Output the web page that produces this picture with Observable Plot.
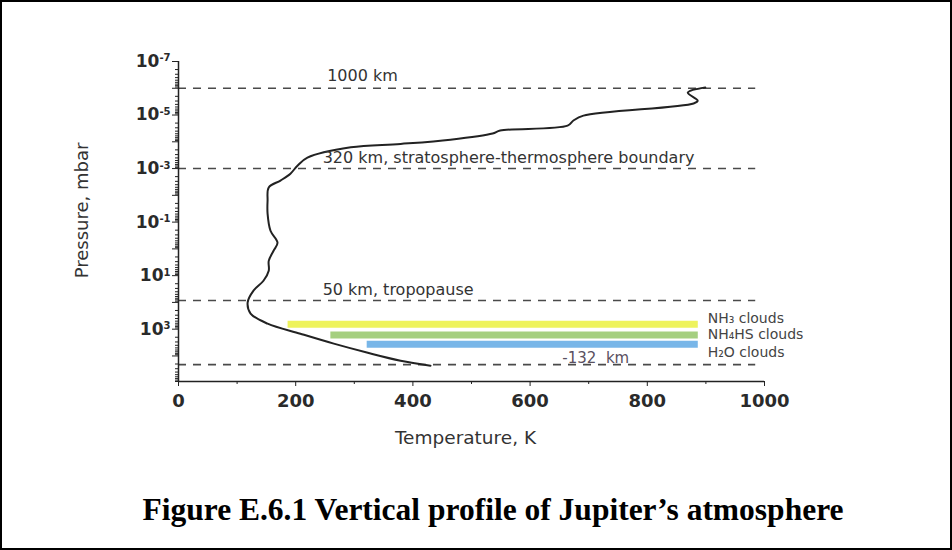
<!DOCTYPE html>
<html><head><meta charset="utf-8">
<script src="https://cdn.jsdelivr.net/npm/d3@7"></script>
<script src="https://cdn.jsdelivr.net/npm/@observablehq/plot@0.6"></script>
<style>
html,body{margin:0;padding:0;background:#fff;}
#frame{width:952px;height:550px;box-sizing:border-box;border:2px solid #000;position:relative;overflow:hidden;background:#fff;}
#chart svg{display:block;}
#caption{font-family:"Liberation Serif","Times New Roman",serif;font-weight:bold;font-size:31.5px;color:#000;text-align:center;padding-left:34px;padding-top:18px;line-height:40px;white-space:nowrap;}
</style></head><body>
<div id="frame"><div id="chart"></div><div id="caption">Figure E.6.1 Vertical profile of Jupiter’s atmosphere</div></div>
<script>
// Temperature profile (K) vs pressure (mbar), top to bottom
const profileT = [899, 869, 886, 879, 691, 674, 664, 549, 536, 464, 379, 294, 220, 203, 191, 174, 154, 152, 152, 157, 169, 162, 154, 154, 145, 128, 118, 123, 152, 208, 265, 323, 379, 430];
const profileP = [9.3e-7, 1.45e-6, 2.9e-6, 3.7e-6, 1.05e-5, 1.6e-5, 2.5e-5, 3.8e-5, 4.9e-5, 8.3e-5, 1.2e-4, 1.6e-4, 3.9e-4, 7.8e-4, 1.55e-3, 2.8e-3, 5.1e-3, 0.016, 0.048, 0.21, 0.59, 1.2, 2.8, 6.5, 15.5, 36, 100, 260, 620, 1480, 3470, 7600, 15000, 23000];

// Altitude reference levels (dashed lines)
const levelNames = ["1000 km", "320 km", "50 km", "-132 km"];
const levelP = [1e-6, 1e-3, 85, 2.1e4];
const levelTStart = 0;
const levelTEnd = 985;

// Cloud layers
const cloudNames = ["NH₃ clouds", "NH₄HS clouds", "H₂O clouds"];
const cloudP = [650, 1660, 3630];
const cloudTStart = [187, 260, 322];
const cloudTEnd = [887, 887, 887];
const cloudLabelP = [410, 1620, 7600];
const cloudLabelT = 903;

// Annotations
const noteTexts = ["1000 km", "320 km, stratosphere-thermosphere boundary", "50 km, tropopause", "-132  km"];
const noteT = [314, 246, 246, 655];
const noteP = [3.3e-7, 3.9e-4, 33, 1.17e4];
const noteAnchor = ["middle", "start", "start", "start"];

// Axes
const xDomain = [0, 1000];
const yDomain = [1e-7, 9e4];
const xMajorTicks = [0, 200, 400, 600, 800, 1000];
const xMinorTicks = [100, 300, 500, 700, 900];
const yDecades = d3.range(-7, 5);
const yLabelExponents = [-7, -5, -3, -1, 1, 3];

// style constants
const cloudColors = ["#eef35c", "#a5cf80", "#78b6e8"];
const FONT = "DejaVu Sans";

const profile = profileT.map((T, i) => ({T, P: profileP[i]}));
const levels = levelNames.map((name, i) => ({name, P: levelP[i]}));
const clouds = cloudNames.map((name, i) => ({name, P: cloudP[i], t0: cloudTStart[i], t1: cloudTEnd[i], lp: cloudLabelP[i], color: cloudColors[i]}));
const notes = noteTexts.map((text, i) => ({text, T: noteT[i], P: noteP[i], anchor: noteAnchor[i]}));
const yMajor = yDecades.map(e => Math.pow(10, e));
const yMinor = [];
for (const e of yDecades) for (let m = 2; m <= 9; m++) { const v = m * Math.pow(10, e); if (v <= yDomain[1]) yMinor.push(v); }

const W = 948, H = 470;
const chart = Plot.plot({
  width: W, height: H,
  marginLeft: 176, marginRight: 186, marginTop: 59, marginBottom: 91,
  style: {fontFamily: FONT, background: "transparent", overflow: "visible"},
  x: {domain: xDomain},
  y: {type: "log", domain: yDomain, reverse: true},
  marks: [
    Plot.ruleY(levels, {y: "P", x1: () => levelTStart, x2: () => levelTEnd, stroke: "#4a4a4a", strokeWidth: 1.6, strokeDasharray: "8,7"}),
    ...clouds.map(c => Plot.ruleY([c], {y: "P", x1: "t0", x2: "t1", stroke: c.color, strokeWidth: 7})),
    Plot.line(profile, {x: "T", y: "P", curve: "catmull-rom", stroke: "#222", strokeWidth: 2}),
    Plot.text(notes.filter(d => d.anchor === "middle"), {x: "T", y: "P", text: "text", textAnchor: "middle", fontSize: 16, fill: "#333"}),
    Plot.text(notes.filter(d => d.anchor === "start" && d.text[0] !== "-"), {x: "T", y: "P", text: "text", textAnchor: "start", fontSize: 16, fill: "#333"}),
    Plot.text(notes.filter(d => d.text[0] === "-"), {x: "T", y: "P", text: "text", textAnchor: "start", fontSize: 15, fill: "#5a5060"}),
    Plot.text(clouds, {x: () => cloudLabelT, y: "lp", text: "name", textAnchor: "start", fontSize: 14, fill: "#444"}),
    // axis lines
    Plot.ruleX([xDomain[0]], {y1: yDomain[0], y2: yDomain[1], stroke: "#222", strokeWidth: 1.5}),
    Plot.ruleY([yDomain[1]], {x1: xDomain[0], x2: xDomain[1], stroke: "#222", strokeWidth: 1.5}),
    Plot.axisX({ticks: xMajorTicks, tickSize: 5, tickPadding: 8, fontSize: 18, fontWeight: "bold", fill: "#2a2a2a", stroke: "#222", label: null, tickFormat: d3.format("d")}),
    Plot.axisX({ticks: xMinorTicks, tickSize: 3, tickFormat: () => "", stroke: "#222", label: null}),
    Plot.axisY({ticks: yMajor, tickSize: 6, tickPadding: 2, fontSize: 17, fontWeight: "bold", fill: "#2a2a2a", stroke: "#222", label: null,
      tickFormat: d => { const e = Math.round(Math.log10(d)); return yLabelExponents.includes(e) ? "10^" + e : ""; }}),
    Plot.axisY({ticks: yMinor, tickSize: 3, tickFormat: () => "", stroke: "#222", label: null}),
    Plot.text(["Temperature, K"], {frameAnchor: "bottom", dx: -6, dy: 57, textAnchor: "middle", lineAnchor: "middle", fontSize: 18.5, fill: "#333"}),
    Plot.text(["Pressure, mbar"], {frameAnchor: "left", dx: -96, dy: -11, rotate: -90, textAnchor: "middle", lineAnchor: "middle", fontSize: 18, fill: "#333"})
  ]
});

// superscript exponents on y tick labels
d3.select(chart).selectAll("text").each(function() {
  const t = this.textContent;
  const m = /^10\^(-?\d+)$/.exec(t);
  if (m) {
    const sel = d3.select(this);
    sel.text("10");
    sel.append("tspan").attr("dy", "-0.55em").attr("font-size", "10px").text(m[1]);
  }
});

document.getElementById("chart").appendChild(chart);
</script>
</body></html>
